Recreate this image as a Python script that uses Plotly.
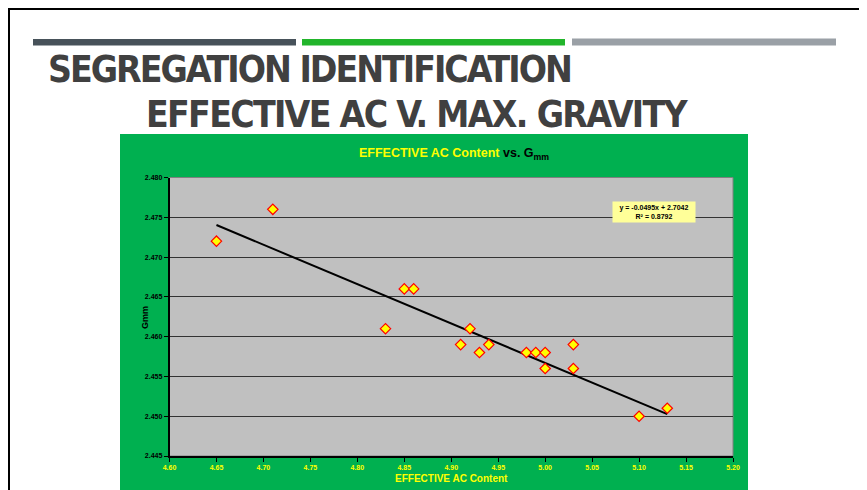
import plotly.graph_objects as go

# ---- data ----
ac_content = [4.65, 4.71, 4.83, 4.85, 4.86, 4.91, 4.92, 4.93, 4.94,
              4.98, 4.99, 5.00, 5.00, 5.03, 5.03, 5.10, 5.13]
gmm = [2.472, 2.476, 2.461, 2.466, 2.466, 2.459, 2.461, 2.458, 2.459,
       2.458, 2.458, 2.458, 2.456, 2.459, 2.456, 2.450, 2.451]
trend_slope = -0.0495
trend_intercept = 2.7042
r_squared = 0.8792

x_ticks = [4.60, 4.65, 4.70, 4.75, 4.80, 4.85, 4.90, 4.95, 5.00, 5.05, 5.10, 5.15, 5.20]
y_ticks = [2.445, 2.450, 2.455, 2.460, 2.465, 2.470, 2.475, 2.480]

W, H = 867, 490
OFF = 8  # page offset of the figure
def px(x): return (x - OFF) / W
def py(y): return 1 - (y - OFF) / H

trend_x = [min(ac_content), max(ac_content)]
trend_y = [trend_slope * v + trend_intercept for v in trend_x]

fig = go.Figure()
fig.add_trace(go.Scatter(x=trend_x, y=trend_y, mode="lines",
                         line=dict(color="black", width=2), hoverinfo="skip"))
fig.add_trace(go.Scatter(x=ac_content, y=gmm, mode="markers",
                         marker=dict(symbol="diamond", size=8, color="#FFFF00",
                                     line=dict(color="#FF0000", width=1.2))))

px0, px1 = px(169.5), px(733)
py0, py1 = py(456), py(177.5)

shapes = [
    dict(type="rect", xref="paper", yref="paper", x0=px(120), x1=px(748), y0=-0.05, y1=py(134),
         fillcolor="#00B050", line=dict(width=0), layer="below"),
    dict(type="rect", xref="paper", yref="paper", x0=px0, x1=px1, y0=py0, y1=py1,
         fillcolor="#C0C0C0", line=dict(color="#808080", width=1), layer="below"),
    dict(type="rect", xref="paper", yref="paper", x0=px(9), x1=px(864), y0=-0.05, y1=py(9),
         fillcolor="rgba(0,0,0,0)", line=dict(color="black", width=2), layer="above"),
    dict(type="rect", xref="paper", yref="paper", x0=px(33), x1=px(296), y0=py(45.5), y1=py(39),
         fillcolor="#47525A", line=dict(width=0)),
    dict(type="rect", xref="paper", yref="paper", x0=px(302), x1=px(565), y0=py(45.5), y1=py(39),
         fillcolor="#22B52B", line=dict(width=0)),
    dict(type="rect", xref="paper", yref="paper", x0=px(572), x1=px(836), y0=py(45.5), y1=py(38.5),
         fillcolor="#9AA0A6", line=dict(width=0)),
]

title_font = dict(family="DejaVu Sans Condensed, Liberation Sans Narrow, Arial Narrow, sans-serif",
                  size=37, color="#404040", weight="bold")
annotations = [
    dict(text='<span style="letter-spacing:-2px">SEGREGATION IDENTIFICATION</span>',
         xref="paper", yref="paper",
         x=px(46), y=py(70), xanchor="left", yanchor="middle", showarrow=False, font=title_font),
    dict(text='<span style="letter-spacing:-1.7px">EFFECTIVE AC V. MAX. GRAVITY</span>',
         xref="paper", yref="paper",
         x=px(144), y=py(115), xanchor="left", yanchor="middle", showarrow=False, font=title_font),
    dict(text='<span style="color:#FFFF00">EFFECTIVE AC Content</span> vs. G<sub>mm</sub>',
         xref="paper", yref="paper", x=px(454), y=py(154), xanchor="center", yanchor="middle",
         showarrow=False, font=dict(family="Liberation Sans, Arial, sans-serif", size=12.5,
                                     color="black", weight="bold")),
    dict(text="Gmm", xref="paper", yref="paper", x=px(145), y=py(318), textangle=-90,
         xanchor="center", yanchor="middle", showarrow=False,
         font=dict(family="Liberation Sans, Arial, sans-serif", size=9, color="black", weight="bold")),
    dict(text="EFFECTIVE AC Content", xref="paper", yref="paper", x=px(451), y=py(478),
         xanchor="center", yanchor="middle", showarrow=False,
         font=dict(family="Liberation Sans, Arial, sans-serif", size=10, color="#FFFF00", weight="bold")),
    dict(text=f"y = {trend_slope:.4f}x + {trend_intercept:.4f}<br>R² = {r_squared:.4f}",
         xref="paper", yref="paper", x=px(654), y=py(211.5), xanchor="center", yanchor="middle",
         showarrow=False, bgcolor="#FFFF99", borderpad=2, width=78, align="center",
         font=dict(family="Liberation Sans, Arial, sans-serif", size=7, color="black", weight="bold")),
]

fig.update_layout(
    template="none",
    width=W, height=H, autosize=False, margin=dict(l=0, r=0, t=0, b=0, pad=0, autoexpand=False),
    paper_bgcolor="white", plot_bgcolor="rgba(0,0,0,0)",
    showlegend=False, shapes=shapes, annotations=annotations,
    xaxis=dict(domain=[px0, px1], range=[4.60, 5.20], tickvals=x_ticks, automargin=False,
               ticktext=[f"{v:.2f}" for v in x_ticks], showgrid=False, zeroline=False,
               showline=True, linecolor="black", linewidth=1.5,
               ticks="outside", ticklen=4, tickcolor="black",
               tickfont=dict(family="Liberation Sans, Arial, sans-serif", size=7,
                             color="#FFFF00", weight="bold")),
    yaxis=dict(domain=[py0, py1], range=[2.445, 2.480], tickvals=y_ticks, automargin=False,
               ticktext=[f"{v:.3f}" for v in y_ticks], showgrid=True, gridcolor="#333333",
               gridwidth=1.2, zeroline=False,
               showline=True, linecolor="black", linewidth=1.5,
               ticks="outside", ticklen=4, tickcolor="black",
               tickfont=dict(family="Liberation Sans, Arial, sans-serif", size=7,
                             color="black", weight="bold")),
)

fig.write_html("out.html")
